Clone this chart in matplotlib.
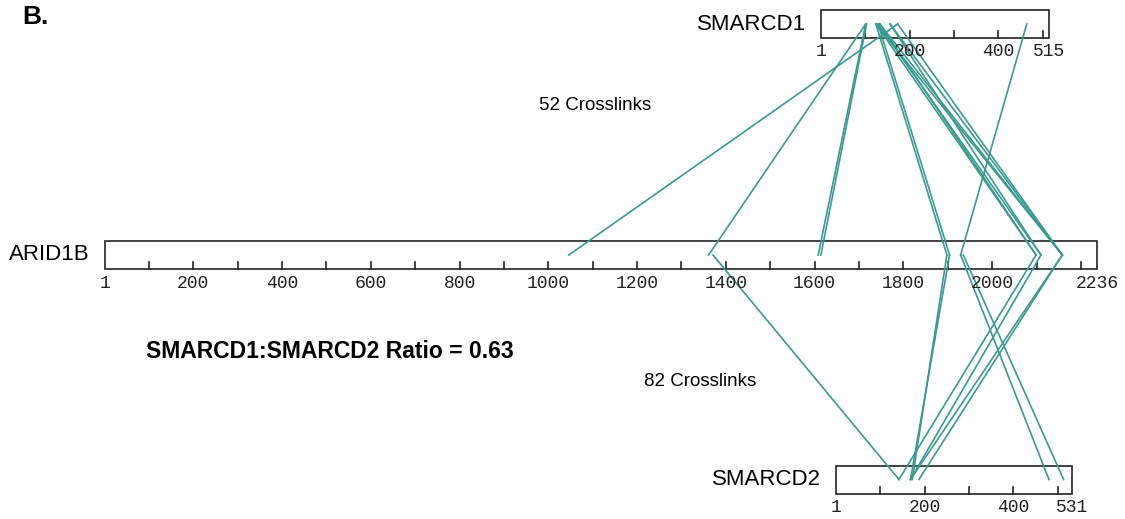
import matplotlib
matplotlib.use("Agg")
import matplotlib.pyplot as plt
import matplotlib.patches as patches

# protein lengths
arid1b_len = 2236
smarcd1_len = 515
smarcd2_len = 531

# tick labels under each bar
arid1b_labels = [1, 200, 400, 600, 800, 1000, 1200, 1400, 1600, 1800, 2000, 2236]
smarcd1_labels = [1, 200, 400, 515]
smarcd2_labels = [1, 200, 400, 531]

# crosslinks: (ARID1B residue, partner residue)
smarcd1_links = [
    (1046, 173), (1361, 101), (1608, 101), (1614, 103),
    (1898, 124), (1904, 129), (1929, 464),
    (2099, 124), (2099, 133), (2110, 129), (2110, 156),
    (2158, 124), (2158, 133), (2158, 156), (2158, 173),
]
smarcd2_links = [
    (1371, 142), (1898, 172), (1904, 168),
    (1929, 480), (1935, 513),
    (2099, 142), (2110, 168), (2158, 168), (2158, 187),
]

link_color = '#3a9a8f'
box_color = '#222222'

# layout (x in ARID1B residue units, y in pixel rows)
px_per_res = 0.4438
x_left = 1 - 105 / px_per_res
x_right = x_left + 1125 / px_per_res
smarcd1_offset = 1614
smarcd2_offset = 1648
y_top, y_mid, y_bot = 24, 255, 479.5
half_h = 14


def draw_protein(ax, name, length, offset, yc, labels):
    rect = patches.Rectangle((offset + 1, yc - half_h), length - 1, 2 * half_h,
                             facecolor='white', edgecolor=box_color, linewidth=1.2, zorder=1)
    ax.add_patch(rect)
    for t in range(100, length, 100):
        ax.plot([offset + t, offset + t], [yc + half_h - 7, yc + half_h],
                color=box_color, linewidth=1.2, zorder=1)
    for lab in labels:
        ax.text(offset + lab, yc + 28, str(lab), ha='center', va='center',
                family='Liberation Mono', fontsize=13, color='#222222')
    ax.text(offset - 34, yc, name, ha='right', va='center',
            family='Liberation Sans', fontsize=16)


fig = plt.figure(figsize=(11.25, 5.19), dpi=100)
ax = fig.add_axes([0, 0, 1, 1])
ax.set_xlim(x_left, x_right)
ax.set_ylim(519, 0)
ax.axis('off')

draw_protein(ax, 'SMARCD1', smarcd1_len, smarcd1_offset, y_top, smarcd1_labels)
draw_protein(ax, 'ARID1B', arid1b_len, 0, y_mid, arid1b_labels)
draw_protein(ax, 'SMARCD2', smarcd2_len, smarcd2_offset, y_bot, smarcd2_labels)

for a, b in smarcd1_links:
    ax.plot([a, smarcd1_offset + b], [y_mid, y_top], color=link_color, linewidth=1.2, zorder=2)
for a, b in smarcd2_links:
    ax.plot([a, smarcd2_offset + b], [y_mid, y_bot], color=link_color, linewidth=1.2, zorder=2)

ax.text(1 + (595 - 105) / px_per_res, 106, '52 Crosslinks', ha='center', va='center',
        family='Liberation Sans', fontsize=13.5)
ax.text(1 + (700 - 105) / px_per_res, 381, '82 Crosslinks', ha='center', va='center',
        family='Liberation Sans', fontsize=13.5)
ax.text(1 + (146 - 105) / px_per_res, 352, 'SMARCD1:SMARCD2 Ratio = 0.63', ha='left', va='center',
        family='Liberation Sans', fontsize=16.5, fontweight='bold')
fig.text(22 / 1125, 1 - 17 / 519, 'B.', ha='left', va='center',
         family='Liberation Sans', fontsize=19, fontweight='bold')

fig.savefig('out.png', dpi=100)
